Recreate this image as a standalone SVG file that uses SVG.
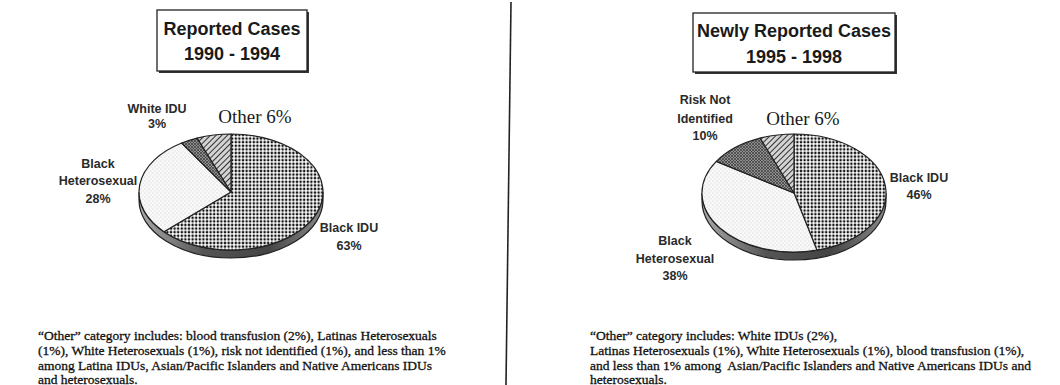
<svg xmlns="http://www.w3.org/2000/svg" width="1060" height="385" viewBox="0 0 1060 385">
<style>
.title{font-family:"Liberation Sans",Arial,sans-serif;font-weight:bold;font-size:18px;fill:#1a1a1a;text-anchor:middle}
.lab{font-family:"Liberation Sans",Arial,sans-serif;font-weight:bold;font-size:12.5px;fill:#2a2a2a;text-anchor:middle}
.oth{font-family:"Liberation Serif","Times New Roman",serif;font-size:19px;fill:#1a1a1a;text-anchor:middle}
.note{font-family:"Liberation Serif","Times New Roman",serif;font-size:13.5px;fill:#111;stroke:#111;stroke-width:0.3}
.box{fill:#fff;stroke:#222;stroke-width:1.3}
.shadow{fill:#333}
.slice{stroke:#222;stroke-width:1.2;stroke-linejoin:round}
.rim{fill:url(#rimg);stroke:#222;stroke-width:1.2}
</style>
<defs>
<pattern id="dots" width="3.6" height="3.6" patternUnits="userSpaceOnUse"><rect width="3.6" height="3.6" fill="#fff"/><circle cx="1.8" cy="1.8" r="1.3" fill="#111"/></pattern>
<pattern id="stipple" width="4" height="4" patternUnits="userSpaceOnUse"><rect width="4" height="4" fill="#f9f9f9"/><circle cx="1" cy="1" r="0.5" fill="#bbb"/><circle cx="3" cy="3" r="0.5" fill="#ccc"/></pattern>
<pattern id="xhatch" width="3" height="3" patternUnits="userSpaceOnUse"><rect width="3" height="3" fill="#8f8f8f"/><path d="M0,0L3,3M3,0L0,3" stroke="#3a3a3a" stroke-width="0.7"/></pattern>
<pattern id="hatch" width="4" height="4" patternUnits="userSpaceOnUse" patternTransform="rotate(45)"><rect width="4" height="4" fill="#d4d4d4"/><line x1="0.5" y1="0" x2="0.5" y2="4" stroke="#333" stroke-width="1"/></pattern>
<linearGradient id="rimg" x1="0" y1="0" x2="1" y2="0"><stop offset="0" stop-color="#aaa"/><stop offset="0.35" stop-color="#555"/><stop offset="0.7" stop-color="#444"/><stop offset="1" stop-color="#888"/></linearGradient>
</defs>
<rect width="1060" height="385" fill="#fff"/>

<g id="connectors">
<line x1="511" y1="2" x2="506" y2="385" stroke="#222" stroke-width="1.6"/>
</g>

<g id="title-left">
<rect class="shadow" x="159" y="12" width="150" height="61"/>
<rect class="box" x="157" y="10" width="150" height="61"/>
<text class="title" x="232" y="35">Reported Cases</text>
<text class="title" x="232" y="60">1990 - 1994</text>
</g>

<g id="pie-left">
<path class="rim" d="M139,192 A92,58 0 0 0 323,192 L323,200 A92,58 0 0 1 139,200 Z"/>
<path id="l-blackidu" class="slice" fill="url(#dots)" d="M231,192 L231,134 A92,58 0 1 1 163.93,231.70 Z"/>
<path id="l-blackhet" class="slice" fill="url(#stipple)" d="M231,192 L163.93,231.70 A92,58 0 0 1 181.71,143.03 Z"/>
<path id="l-whiteidu" class="slice" fill="url(#xhatch)" d="M231,192 L181.71,143.03 A92,58 0 0 1 197.13,138.07 Z"/>
<path id="l-other" class="slice" fill="url(#hatch)" d="M231,192 L197.13,138.07 A92,58 0 0 1 231,134 Z"/>
</g>

<g id="labels-left">
<text class="lab" x="157" y="113">White IDU</text>
<text class="lab" x="157" y="128">3%</text>
<text class="oth" x="255" y="123">Other 6%</text>
<text class="lab" x="98" y="168">Black</text>
<text class="lab" x="98" y="185">Heterosexual</text>
<text class="lab" x="98" y="203">28%</text>
<text class="lab" x="349" y="232">Black IDU</text>
<text class="lab" x="349" y="250">63%</text>
</g>

<g id="note-left">
<text class="note" x="38" y="340">“Other” category includes: blood transfusion (2%), Latinas Heterosexuals</text>
<text class="note" x="38" y="355">(1%), White Heterosexuals (1%), risk not identified (1%), and less than 1%</text>
<text class="note" x="38" y="370">among Latina IDUs, Asian/Pacific Islanders and Native Americans IDUs</text>
<text class="note" x="38" y="384">and heterosexuals.</text>
</g>

<g id="title-right">
<rect class="shadow" x="695" y="15" width="202" height="59"/>
<rect class="box" x="693" y="13" width="202" height="59"/>
<text class="title" x="794" y="37">Newly Reported Cases</text>
<text class="title" x="794" y="63">1995 - 1998</text>
</g>

<g id="pie-right">
<path class="rim" d="M702,193 A92,59 0 0 0 886,193 L886,201 A92,59 0 0 1 702,201 Z"/>
<path id="r-blackidu" class="slice" fill="url(#dots)" d="M794,193 L794,134 A92,59 0 0 1 816.88,250.15 Z"/>
<path id="r-blackhet" class="slice" fill="url(#stipple)" d="M794,193 L816.88,250.15 A92,59 0 0 1 716.32,161.39 Z"/>
<path id="r-risk" class="slice" fill="url(#xhatch)" d="M794,193 L716.32,161.39 A92,59 0 0 1 760.13,138.14 Z"/>
<path id="r-other" class="slice" fill="url(#hatch)" d="M794,193 L760.13,138.14 A92,59 0 0 1 794,134 Z"/>
</g>

<g id="labels-right">
<text class="lab" x="705" y="104">Risk Not</text>
<text class="lab" x="705" y="123">Identified</text>
<text class="lab" x="705" y="140">10%</text>
<text class="oth" x="803" y="125">Other 6%</text>
<text class="lab" x="919" y="182">Black IDU</text>
<text class="lab" x="919" y="199">46%</text>
<text class="lab" x="675" y="245">Black</text>
<text class="lab" x="675" y="263">Heterosexual</text>
<text class="lab" x="675" y="280">38%</text>
</g>

<g id="note-right">
<text class="note" x="590" y="340">“Other” category includes: White IDUs (2%),</text>
<text class="note" x="590" y="355">Latinas Heterosexuals (1%), White Heterosexuals (1%), blood transfusion (1%),</text>
<text class="note" x="590" y="370">and less than 1% among&#160; Asian/Pacific Islanders and Native Americans IDUs and</text>
<text class="note" x="590" y="384">heterosexuals.</text>
</g>
</svg>
